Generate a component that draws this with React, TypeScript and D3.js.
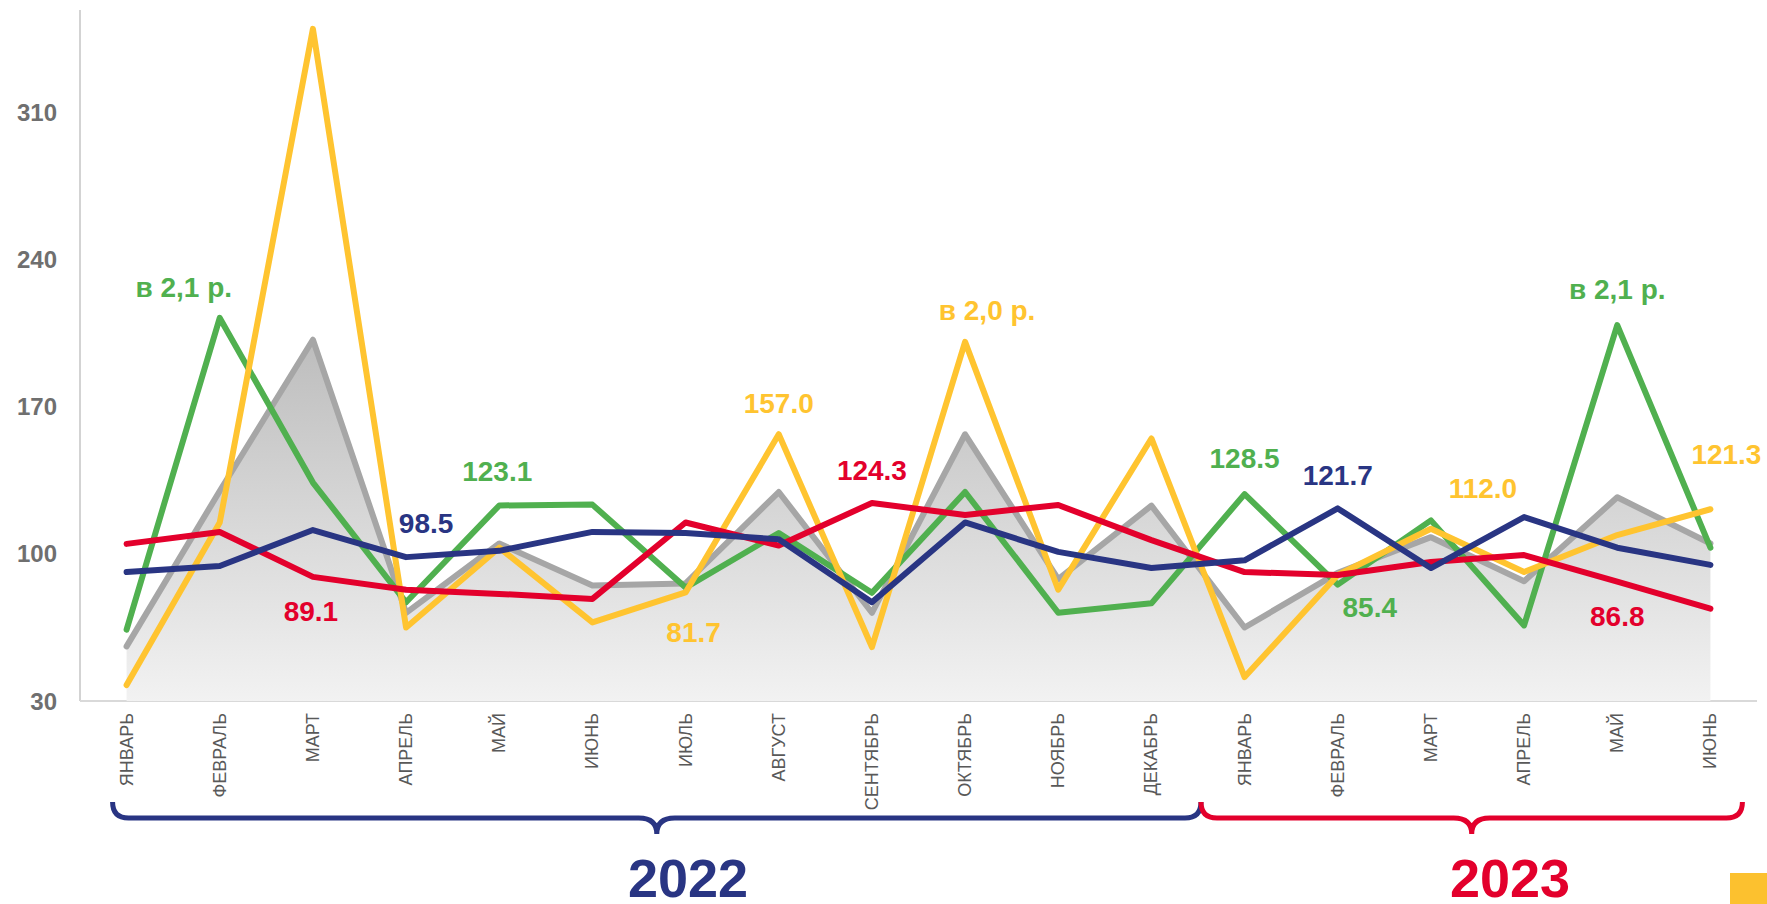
import React from 'react';
import * as d3 from 'd3';

// months along the x axis (2022: Jan-Dec, 2023: Jan-Jun)
const months = [
  'ЯНВАРЬ', 'ФЕВРАЛЬ', 'МАРТ', 'АПРЕЛЬ', 'МАЙ', 'ИЮНЬ', 'ИЮЛЬ', 'АВГУСТ',
  'СЕНТЯБРЬ', 'ОКТЯБРЬ', 'НОЯБРЬ', 'ДЕКАБРЬ',
  'ЯНВАРЬ', 'ФЕВРАЛЬ', 'МАРТ', 'АПРЕЛЬ', 'МАЙ', 'ИЮНЬ',
];
const years = [
  '2022', '2022', '2022', '2022', '2022', '2022', '2022', '2022', '2022', '2022', '2022', '2022',
  '2023', '2023', '2023', '2023', '2023', '2023',
];
const yTicks = [30, 100, 170, 240, 310];

// series values
const grayValues = [56, 130, 202, 72, 105, 85, 86, 129.5, 72, 157, 88, 123, 65, 91, 108, 87, 127, 105];
const greenValues = [64, 212.4, 134, 77, 123.1, 123.5, 84, 110, 81.5, 129.5, 72, 76.5, 128.5, 85.4, 116, 66, 209, 103];
const yellowValues = [37.6, 115, 350, 65, 103, 67.4, 81.7, 157, 55.7, 201, 83, 155, 41.4, 90, 112, 91.4, 109, 121.3];
const redValues = [104.8, 110.5, 89.1, 83, 81, 78.6, 115, 104, 124.3, 118.6, 123.3, 106.6, 91.4, 90, 96.2, 99.5, 86.8, 74];
const navyValues = [91.4, 94.3, 111.4, 98.5, 101.5, 110.5, 110, 107, 77, 115, 101, 93.3, 97, 121.7, 93.3, 117.6, 103, 94.8];

const COLORS = {
  gray: '#a6a6a6',
  green: '#50b04f',
  yellow: '#ffc430',
  red: '#e3002c',
  navy: '#293583',
};

const series = [
  { key: 'green', values: greenValues },
  { key: 'yellow', values: yellowValues },
  { key: 'red', values: redValues },
  { key: 'navy', values: navyValues },
];

// callouts: which series / month, text, and offset from the point
const callouts = [
  { key: 'green', i: 1, text: 'в 2,1 р.', dx: -36, dy: -21 },
  { key: 'green', i: 4, text: '123.1', dx: -2, dy: -24 },
  { key: 'navy', i: 3, text: '98.5', dx: 20, dy: -24 },
  { key: 'red', i: 2, text: '89.1', dx: -2, dy: 44 },
  { key: 'yellow', i: 7, text: '157.0', dx: 0, dy: -21 },
  { key: 'yellow', i: 9, text: 'в 2,0 р.', dx: 22, dy: -22 },
  { key: 'yellow', i: 6, text: '81.7', dx: 8, dy: 50 },
  { key: 'red', i: 8, text: '124.3', dx: 0, dy: -23 },
  { key: 'green', i: 12, text: '128.5', dx: 0, dy: -26 },
  { key: 'navy', i: 13, text: '121.7', dx: 0, dy: -23 },
  { key: 'yellow', i: 14, text: '112.0', dx: 52, dy: -31 },
  { key: 'green', i: 13, text: '85.4', dx: 32, dy: 32 },
  { key: 'red', i: 16, text: '86.8', dx: 0, dy: 44 },
  { key: 'green', i: 16, text: 'в 2,1 р.', dx: 0, dy: -26 },
  { key: 'yellow', i: 17, text: '121.3', dx: 16, dy: -45 },
];

const W = 1767;
const H = 904;
const FONT = '"Liberation Sans", Arial, sans-serif';

export default function App() {
  const ids = months.map((_, i) => i);
  const band = d3.scaleBand<number>().domain(ids).range([80, 1757]);
  const x = (i: number) => (band(i) as number) + band.bandwidth() / 2;
  const y = d3.scaleLinear().domain([30, 359]).range([701, 10]);

  const line = d3.line<number>().x((_, i) => x(i)).y((d) => y(d));
  const area = d3.area<number>().x((_, i) => x(i)).y0(y(30)).y1((d) => y(d));

  const valuesOf: Record<string, number[]> = {
    green: greenValues, yellow: yellowValues, red: redValues, navy: navyValues,
  };

  // curly brace under a group of months
  const brace = (x0: number, x1: number) => {
    const top = 802, mid = 818, tip = 834, r = 16;
    const cx = (x0 + x1) / 2;
    const p = d3.path();
    p.moveTo(x0, top);
    p.quadraticCurveTo(x0, mid, x0 + r, mid);
    p.lineTo(cx - 18, mid);
    p.quadraticCurveTo(cx, mid, cx, tip);
    p.quadraticCurveTo(cx, mid, cx + 18, mid);
    p.lineTo(x1 - r, mid);
    p.quadraticCurveTo(x1, mid, x1, top);
    return p.toString();
  };
  const split = (x(11) + x(12)) / 2 + 3;

  return (
    <div style={{ position: 'absolute', left: 0, top: 0 }}>
      <svg width={W} height={H} style={{ display: 'block', background: '#fff' }}>
        <defs>
          <linearGradient id="grayFill" x1="0" y1="0" x2="0" y2="1">
            <stop offset="0%" stopColor="#bdbdbd" />
            <stop offset="100%" stopColor="#f2f2f2" />
          </linearGradient>
        </defs>

        {/* axes */}
        <line x1={80} x2={80} y1={10} y2={701} stroke="#c4c4c4" strokeWidth={1.5} />
        <line x1={80} x2={1757} y1={701} y2={701} stroke="#d9d9d9" strokeWidth={2} />

        {yTicks.map((t) => (
          <text key={t} x={57} y={y(t)} textAnchor="end" dominantBaseline="central"
            fontFamily={FONT} fontWeight="bold" fontSize={24} fill="#6f6f6f">{t}</text>
        ))}

        {/* gray background series */}
        <path d={area(grayValues) as string} fill="url(#grayFill)" />
        <path d={line(grayValues) as string} fill="none" stroke={COLORS.gray} strokeWidth={6}
          strokeLinejoin="round" strokeLinecap="round" />

        {series.map((s) => (
          <path key={s.key} d={line(s.values) as string} fill="none"
            stroke={(COLORS as any)[s.key]} strokeWidth={6}
            strokeLinejoin="round" strokeLinecap="round" />
        ))}

        {callouts.map((c, k) => (
          <text key={k} x={x(c.i) + c.dx} y={y(valuesOf[c.key][c.i]) + c.dy} textAnchor="middle"
            fontFamily={FONT} fontWeight="bold" fontSize={28} fill={(COLORS as any)[c.key]}>{c.text}</text>
        ))}

        {/* month labels */}
        {months.map((m, i) => (
          <text key={i} transform={`translate(${x(i)},713) rotate(-90)`} textAnchor="end"
            dominantBaseline="central" fontFamily={FONT} fontSize={18} fill="#595959">{m}</text>
        ))}

        {/* year braces */}
        <path d={brace(x(0) - 14, split)} fill="none" stroke={COLORS.navy} strokeWidth={5} />
        <path d={brace(split, x(17) + 32)} fill="none" stroke={COLORS.red} strokeWidth={5} />
        <text x={688} y={897} textAnchor="middle" fontFamily={FONT} fontWeight="bold"
          fontSize={54} fill={COLORS.navy}>{years[0]}</text>
        <text x={1510} y={897} textAnchor="middle" fontFamily={FONT} fontWeight="bold"
          fontSize={54} fill={COLORS.red}>{years[17]}</text>

        <rect x={1730} y={873} width={37} height={31} fill="#fcc12f" />
      </svg>
    </div>
  );
}
